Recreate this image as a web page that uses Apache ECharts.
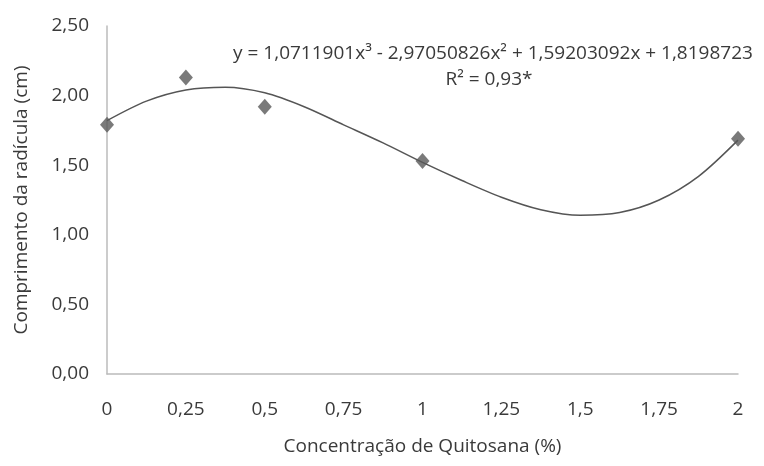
<!DOCTYPE html>
<html>
<head>
<meta charset="utf-8">
<script src="https://cdn.jsdelivr.net/npm/echarts@6/dist/echarts.min.js"></script>
<style>
  html, body { margin: 0; padding: 0; background: #fff; }
  #chart { width: 764px; height: 466px; }
</style>
</head>
<body>
<div id="chart"></div>
<script>
// pontos observados
var obsX = [0, 0.25, 0.5, 1, 2];
var obsY = [1.79, 2.13, 1.92, 1.53, 1.69];

// linha de tendência
var curveX = [0, 0.125, 0.25, 0.375, 0.5, 0.625, 0.75, 0.875, 1, 1.125, 1.25, 1.375, 1.5, 1.625, 1.75, 1.875, 2];
var curveY = [1.82, 1.96, 2.04, 2.06, 2.02, 1.92, 1.79, 1.66, 1.52, 1.39, 1.27, 1.18, 1.14, 1.16, 1.25, 1.42, 1.68];

var eqText = 'y = 1,0711901x³ - 2,97050826x² + 1,59203092x + 1,8198723';
var r2Text = 'R² = 0,93*';

var fontFam = '"Open Sans", "Liberation Sans", sans-serif';
var fs = 19;
var txtColor = '#3a3a3a';

var myChart = echarts.init(document.getElementById('chart'));

var obsData = obsX.map(function (x, i) { return [x, obsY[i]]; });
var curveData = curveX.map(function (x, i) { return [x, curveY[i]]; });

var option = {
    animation: false,
    backgroundColor: '#fff',
    grid: { left: 107, right: 26, top: 26, bottom: 92, outerBoundsMode: 'none', containLabel: false },
    graphic: [
        {
            type: 'text', x: 493, y: 54,
            style: {
                text: eqText, fill: txtColor, font: fs + 'px ' + fontFam,
                align: 'center', verticalAlign: 'middle'
            }
        },
        {
            type: 'text', x: 489, y: 80,
            style: {
                text: r2Text, fill: txtColor, font: fs + 'px ' + fontFam,
                align: 'center', verticalAlign: 'middle'
            }
        }
    ],
    xAxis: {
        type: 'value',
        min: 0, max: 2, interval: 0.25,
        name: 'Concentração de Quitosana (%)',
        nameLocation: 'middle',
        nameGap: 63,
        nameTextStyle: { color: txtColor, fontSize: fs, fontFamily: fontFam },
        splitLine: { show: false },
        axisTick: { show: false },
        axisLine: { lineStyle: { color: '#bbb', width: 1.5 } },
        axisLabel: {
            margin: 26, color: txtColor, fontSize: fs, fontFamily: fontFam,
            formatter: function (v) { return String(v).replace('.', ','); }
        }
    },
    yAxis: {
        type: 'value',
        min: 0, max: 2.5, interval: 0.5,
        name: 'Comprimento da radícula (cm)',
        nameLocation: 'middle',
        nameGap: 76,
        nameTextStyle: { color: txtColor, fontSize: fs, fontFamily: fontFam },
        splitLine: { show: false },
        axisTick: { show: false },
        axisLine: { show: true, lineStyle: { color: '#bbb', width: 1.5 } },
        axisLabel: {
            margin: 18, color: txtColor, fontSize: fs, fontFamily: fontFam,
            formatter: function (v) { return v.toFixed(2).replace('.', ','); }
        }
    },
    series: [
        {
            type: 'line',
            data: curveData,
            smooth: 0.3,
            showSymbol: false,
            lineStyle: { color: '#555', width: 1.5 },
            z: 2
        },
        {
            type: 'scatter',
            data: obsData,
            symbol: 'diamond',
            symbolSize: [14, 16],
            itemStyle: { color: '#595959' },
            z: 3
        }
    ]
};
myChart.setOption(option);
</script>
</body>
</html>
